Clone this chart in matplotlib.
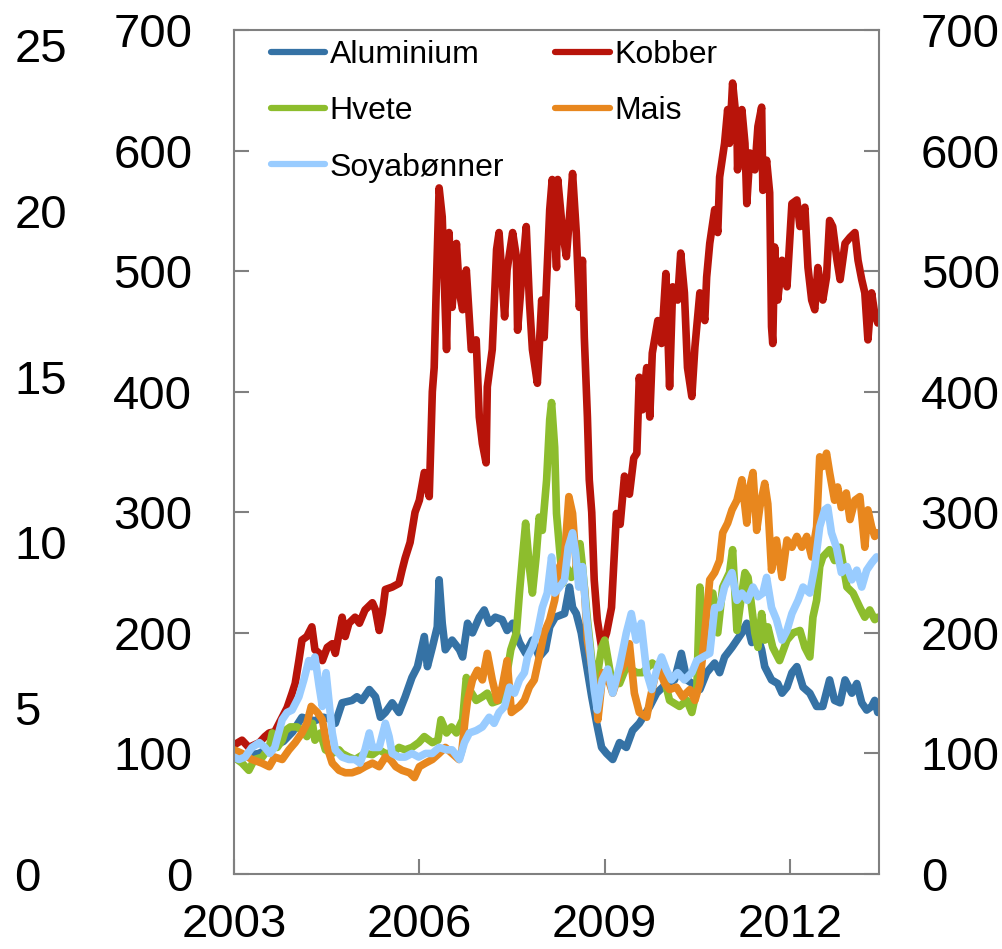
import matplotlib
matplotlib.use("Agg")
import matplotlib.pyplot as plt

plt.rcParams['font.family'] = ['Liberation Sans', 'DejaVu Sans']

# indeks, 2003 = 100 (tid i desimalår)
aluminium_t = [2003.00, 2003.20, 2003.40, 2003.60, 2003.80, 2003.95, 2004.10, 2004.30, 2004.45,
               2004.59, 2004.64, 2004.75, 2004.91, 2004.99, 2005.07, 2005.19, 2005.29, 2005.37,
               2005.45, 2005.56, 2005.67, 2005.77, 2005.88, 2005.97, 2006.08, 2006.13, 2006.21,
               2006.29, 2006.32, 2006.37, 2006.42, 2006.53, 2006.65, 2006.70, 2006.78, 2006.86,
               2006.97, 2007.05, 2007.13, 2007.23, 2007.34, 2007.42, 2007.51, 2007.62, 2007.72,
               2007.83, 2007.94, 2008.04, 2008.11, 2008.20, 2008.35, 2008.43, 2008.48, 2008.54,
               2008.62, 2008.70, 2008.79, 2008.87, 2008.95, 2009.03, 2009.13, 2009.24, 2009.35,
               2009.45, 2009.56, 2009.73, 2009.84, 2010.00, 2010.13, 2010.24, 2010.33, 2010.42,
               2010.54, 2010.65, 2010.78, 2010.86, 2010.94, 2011.06, 2011.14, 2011.22, 2011.30,
               2011.38, 2011.46, 2011.54, 2011.59, 2011.70, 2011.80, 2011.87, 2011.95, 2012.03,
               2012.11, 2012.21, 2012.32, 2012.43, 2012.53, 2012.64, 2012.72, 2012.81, 2012.89,
               2013.00, 2013.08, 2013.16, 2013.24, 2013.32, 2013.37, 2013.42]
aluminium_v = [100, 98, 100, 105, 110, 118, 130, 127, 130,
               128, 125, 142, 144, 147, 144, 153, 147, 130,
               134, 142, 134, 147, 163, 172, 197, 172, 188,
               205, 244, 208, 186, 194, 186, 180, 208, 200,
               213, 219, 208, 213, 211, 202, 208, 192, 183,
               194, 180, 186, 205, 213, 216, 238, 221, 216,
               200, 175, 147, 125, 105, 100, 95, 109, 105,
               119, 125, 139, 150, 158, 161, 183, 161, 158,
               153, 167, 175, 167, 180, 188, 194, 200, 208,
               192, 200, 186, 172, 161, 158, 150, 155, 167,
               172, 155, 150, 139, 139, 161, 144, 142, 161,
               150, 158, 142, 136, 139, 144, 134]

kobber_t = [2003.00, 2003.13, 2003.24, 2003.41, 2003.50, 2003.57, 2003.66, 2003.78, 2003.86,
            2003.94, 2003.99, 2004.05, 2004.10, 2004.18, 2004.26, 2004.31, 2004.38, 2004.43,
            2004.51, 2004.59, 2004.64, 2004.75, 2004.80, 2004.86, 2004.96, 2005.03, 2005.12,
            2005.24, 2005.29, 2005.35, 2005.40, 2005.45, 2005.56, 2005.67, 2005.72, 2005.77,
            2005.85, 2005.93, 2006.00, 2006.08, 2006.16, 2006.21, 2006.24, 2006.27, 2006.32,
            2006.37, 2006.44, 2006.48, 2006.53, 2006.60, 2006.65, 2006.70, 2006.76, 2006.84,
            2006.92, 2006.97, 2007.02, 2007.08, 2007.10, 2007.18, 2007.25, 2007.29, 2007.38,
            2007.42, 2007.51, 2007.57, 2007.59, 2007.65, 2007.73, 2007.78, 2007.83, 2007.91,
            2007.98, 2008.02, 2008.07, 2008.11, 2008.15, 2008.22, 2008.24, 2008.32, 2008.38,
            2008.43, 2008.48, 2008.54, 2008.59, 2008.64, 2008.67, 2008.72, 2008.75, 2008.79,
            2008.83, 2008.88, 2008.95, 2009.03, 2009.11, 2009.19, 2009.25, 2009.32, 2009.40,
            2009.47, 2009.52, 2009.56, 2009.61, 2009.68, 2009.73, 2009.77, 2009.86, 2009.92,
            2009.99, 2010.05, 2010.10, 2010.18, 2010.23, 2010.29, 2010.34, 2010.41, 2010.46,
            2010.54, 2010.62, 2010.65, 2010.70, 2010.78, 2010.83, 2010.86, 2010.94, 2010.99,
            2011.02, 2011.07, 2011.14, 2011.15, 2011.22, 2011.27, 2011.30, 2011.35, 2011.43,
            2011.48, 2011.54, 2011.56, 2011.62, 2011.67, 2011.70, 2011.72, 2011.75, 2011.80,
            2011.87, 2011.95, 2012.03, 2012.11, 2012.16, 2012.24, 2012.29, 2012.35, 2012.40,
            2012.45, 2012.53, 2012.59, 2012.64, 2012.69, 2012.76, 2012.81, 2012.89, 2012.97,
            2013.05, 2013.10, 2013.16, 2013.21, 2013.26, 2013.32, 2013.37, 2013.42]
kobber_v = [107, 111, 105, 109, 114, 117, 118, 130, 138,
            150, 158, 177, 194, 197, 205, 186, 183, 177,
            188, 191, 183, 213, 197, 208, 213, 208, 219,
            225, 219, 202, 216, 236, 238, 241, 252, 262,
            275, 300, 310, 333, 313, 400, 420, 479, 569,
            545, 435, 532, 470, 523, 482, 468, 501, 435,
            443, 379, 357, 341, 404, 435, 518, 532, 462,
            501, 532, 512, 451, 490, 537, 476, 435, 407,
            476, 445, 503, 551, 576, 503, 576, 532, 512,
            545, 581, 532, 470, 509, 445, 379, 327, 300,
            244, 211, 188, 200, 221, 299, 290, 330, 315,
            345, 349, 412, 385, 420, 379, 432, 459, 440,
            498, 404, 487, 476, 515, 482, 420, 396, 437,
            482, 459, 495, 523, 551, 532, 578, 606, 634,
            606, 656, 620, 584, 634, 606, 556, 598, 584,
            620, 636, 567, 592, 565, 454, 440, 520, 476,
            509, 487, 556, 559, 537, 553, 503, 476, 468,
            503, 476, 495, 542, 537, 509, 493, 523, 528,
            532, 509, 493, 482, 443, 482, 465, 457]

hvete_t = [2003.00, 2003.13, 2003.24, 2003.33, 2003.46, 2003.57, 2003.62, 2003.70, 2003.78,
           2003.83, 2003.91, 2004.02, 2004.10, 2004.18, 2004.27, 2004.31, 2004.40, 2004.48,
           2004.59, 2004.70, 2004.75, 2004.86, 2004.96, 2005.12, 2005.24, 2005.35, 2005.45,
           2005.56, 2005.67, 2005.77, 2005.88, 2005.99, 2006.08, 2006.21, 2006.30, 2006.35,
           2006.44, 2006.52, 2006.60, 2006.70, 2006.76, 2006.81, 2006.92, 2007.02, 2007.10,
           2007.18, 2007.29, 2007.40, 2007.48, 2007.57, 2007.62, 2007.67, 2007.72, 2007.78,
           2007.83, 2007.89, 2007.94, 2007.99, 2008.06, 2008.11, 2008.14, 2008.19, 2008.22,
           2008.27, 2008.32, 2008.38, 2008.46, 2008.54, 2008.60, 2008.64, 2008.72, 2008.79,
           2008.87, 2008.95, 2009.00, 2009.11, 2009.24, 2009.35, 2009.52, 2009.61, 2009.77,
           2009.94, 2010.05, 2010.21, 2010.33, 2010.41, 2010.49, 2010.54, 2010.59, 2010.65,
           2010.75, 2010.83, 2010.91, 2011.02, 2011.07, 2011.14, 2011.22, 2011.27, 2011.32,
           2011.38, 2011.43, 2011.48, 2011.54, 2011.59, 2011.64, 2011.72, 2011.83, 2011.95,
           2012.05, 2012.16, 2012.24, 2012.32, 2012.37, 2012.43, 2012.48, 2012.53, 2012.64,
           2012.72, 2012.81, 2012.92, 2013.02, 2013.13, 2013.21, 2013.29, 2013.37, 2013.42]
hvete_v = [97, 92, 86, 95, 97, 105, 117, 105, 111,
           119, 122, 122, 119, 114, 125, 111, 117, 103,
           100, 103, 100, 97, 95, 100, 99, 103, 100,
           100, 105, 103, 105, 109, 114, 109, 111, 128,
           117, 122, 117, 128, 163, 153, 144, 147, 150,
           142, 144, 161, 186, 200, 233, 263, 291, 255,
           233, 263, 296, 285, 327, 377, 391, 354, 299,
           269, 241, 255, 246, 255, 274, 255, 211, 177,
           161, 188, 194, 161, 158, 172, 167, 167, 175,
           167, 144, 139, 144, 134, 153, 238, 200, 221,
           233, 200, 238, 250, 269, 202, 233, 250, 246,
           221, 200, 188, 216, 194, 205, 188, 177, 194,
           200, 202, 188, 180, 213, 227, 255, 263, 269,
           260, 271, 238, 233, 221, 213, 219, 211, 213]

mais_t = [2003.00, 2003.13, 2003.29, 2003.45, 2003.57, 2003.66, 2003.78, 2003.89, 2003.99,
          2004.10, 2004.18, 2004.25, 2004.35, 2004.43, 2004.51, 2004.59, 2004.70, 2004.80,
          2004.91, 2005.02, 2005.12, 2005.24, 2005.35, 2005.45, 2005.53, 2005.62, 2005.72,
          2005.84, 2005.92, 2006.00, 2006.10, 2006.21, 2006.32, 2006.42, 2006.53, 2006.64,
          2006.69, 2006.74, 2006.78, 2006.86, 2006.94, 2007.02, 2007.10, 2007.18, 2007.26,
          2007.34, 2007.42, 2007.49, 2007.54, 2007.62, 2007.70, 2007.78, 2007.86, 2007.94,
          2008.02, 2008.11, 2008.19, 2008.27, 2008.35, 2008.42, 2008.48, 2008.54, 2008.62,
          2008.67, 2008.72, 2008.79, 2008.87, 2008.89, 2008.97, 2009.08, 2009.13, 2009.24,
          2009.35, 2009.40, 2009.48, 2009.56, 2009.68, 2009.73, 2009.81, 2009.89, 2009.97,
          2010.05, 2010.16, 2010.26, 2010.38, 2010.46, 2010.54, 2010.62, 2010.70, 2010.78,
          2010.86, 2010.91, 2010.99, 2011.06, 2011.14, 2011.22, 2011.30, 2011.35, 2011.40,
          2011.46, 2011.51, 2011.59, 2011.64, 2011.70, 2011.78, 2011.87, 2011.95, 2012.03,
          2012.11, 2012.19, 2012.27, 2012.35, 2012.43, 2012.48, 2012.53, 2012.59, 2012.64,
          2012.72, 2012.77, 2012.83, 2012.91, 2012.97, 2013.05, 2013.13, 2013.21, 2013.26,
          2013.32, 2013.37, 2013.42]
mais_v = [103, 100, 95, 92, 89, 97, 95, 103, 109,
          117, 125, 139, 134, 128, 105, 92, 86, 84,
          84, 86, 89, 92, 89, 97, 95, 89, 86,
          84, 80, 89, 92, 95, 100, 105, 100, 95,
          103, 128, 144, 161, 169, 161, 183, 161, 144,
          155, 177, 134, 136, 139, 144, 155, 161, 180,
          200, 211, 227, 255, 263, 313, 299, 255, 244,
          238, 194, 172, 144, 128, 167, 158, 150, 167,
          177, 191, 150, 134, 130, 144, 163, 169, 158,
          153, 155, 147, 153, 144, 158, 200, 244, 250,
          260, 283, 291, 302, 310, 327, 291, 321, 333,
          285, 304, 324, 307, 252, 277, 246, 277, 271,
          280, 271, 280, 263, 288, 346, 338, 349, 333,
          310, 321, 304, 316, 294, 310, 313, 271, 302,
          288, 280, 283]

soya_t = [2003.00, 2003.08, 2003.18, 2003.29, 2003.41, 2003.50, 2003.58, 2003.66, 2003.78,
          2003.86, 2003.94, 2004.05, 2004.13, 2004.21, 2004.26, 2004.31, 2004.38, 2004.43,
          2004.49, 2004.54, 2004.59, 2004.64, 2004.75, 2004.86, 2004.96, 2005.04, 2005.12,
          2005.19, 2005.24, 2005.35, 2005.45, 2005.51, 2005.56, 2005.67, 2005.77, 2005.88,
          2005.99, 2006.10, 2006.21, 2006.32, 2006.44, 2006.53, 2006.65, 2006.73, 2006.81,
          2006.92, 2007.02, 2007.13, 2007.21, 2007.29, 2007.38, 2007.46, 2007.54, 2007.62,
          2007.70, 2007.75, 2007.83, 2007.91, 2007.99, 2008.07, 2008.14, 2008.19, 2008.27,
          2008.35, 2008.41, 2008.48, 2008.53, 2008.58, 2008.64, 2008.70, 2008.79, 2008.83,
          2008.88, 2008.96, 2009.05, 2009.13, 2009.24, 2009.35, 2009.43, 2009.51, 2009.59,
          2009.68, 2009.76, 2009.84, 2009.92, 2010.00, 2010.08, 2010.18, 2010.29, 2010.41,
          2010.49, 2010.59, 2010.70, 2010.78, 2010.86, 2010.94, 2011.06, 2011.14, 2011.22,
          2011.31, 2011.40, 2011.48, 2011.56, 2011.62, 2011.70, 2011.78, 2011.87, 2011.95,
          2012.03, 2012.13, 2012.21, 2012.32, 2012.40, 2012.48, 2012.56, 2012.61, 2012.67,
          2012.75, 2012.83, 2012.92, 2013.00, 2013.08, 2013.16, 2013.24, 2013.32, 2013.40]
soya_v = [97, 95, 97, 105, 109, 105, 100, 105, 128,
          134, 136, 147, 161, 177, 172, 180, 155, 139,
          167, 142, 117, 103, 97, 95, 95, 92, 103,
          117, 105, 105, 125, 114, 100, 97, 97, 100,
          97, 100, 100, 105, 103, 103, 95, 109, 117,
          119, 122, 130, 125, 134, 139, 155, 150, 161,
          167, 180, 188, 200, 221, 233, 263, 233, 238,
          244, 271, 283, 266, 238, 255, 216, 172, 153,
          136, 161, 170, 150, 172, 200, 216, 194, 208,
          167, 153, 169, 180, 169, 161, 167, 161, 167,
          177, 180, 183, 221, 221, 238, 250, 227, 233,
          227, 238, 230, 233, 246, 221, 211, 194, 202,
          216, 227, 238, 233, 255, 288, 302, 304, 283,
          271, 250, 255, 244, 252, 238, 252, 258, 263]

year_ticks = [2003, 2006, 2009, 2012]
left_ticks = list(range(0, 701, 100))
outer_ticks = [0, 5, 10, 15, 20, 25]

grey = '#808080'

fig = plt.figure(figsize=(10.03, 9.49), dpi=100)
ax = fig.add_axes([0.2333, 0.0790, 0.6431, 0.8894])

style = dict(lw=5.5, solid_capstyle='round', solid_joinstyle='round')
h_alu, = ax.plot(aluminium_t, aluminium_v, color='#3572A5', label='Aluminium', **style)
h_kob, = ax.plot(kobber_t, kobber_v, color='#B8140A', label='Kobber', **style)
h_hve, = ax.plot(hvete_t, hvete_v, color='#8DBD2D', label='Hvete', **style)
h_mai, = ax.plot(mais_t, mais_v, color='#E8871E', label='Mais', **style)
h_soy, = ax.plot(soya_t, soya_v, color='#99CCFF', label='Soyabønner', **style)

ax.set_xlim(2003, 2013.44)
ax.set_ylim(0, 700)
ax.set_xticks(year_ticks)
ax.set_yticks(left_ticks)

# ytre venstre akse (0-25), kun tall
ax3 = ax.twinx()
ax3.set_ylim(0, 25.45)
ax3.yaxis.tick_left()
ax3.set_yticks(outer_ticks, labels=[str(v) for v in outer_ticks], ha='left')
ax3.tick_params(axis='y', length=0, labelsize=34, pad=158)
for s in ax3.spines.values():
    s.set_visible(False)

ax.tick_params(axis='both', direction='in', length=11, width=1.5, color=grey,
               labelsize=34, pad=30)
ax.tick_params(axis='y', left=True, right=True, labelleft=True, labelright=True)
ax.tick_params(axis='x', pad=21)
for s in ax.spines.values():
    s.set_color(grey)
    s.set_linewidth(1.5)

leg = ax.legend([h_alu, h_hve, h_soy, h_kob, h_mai],
                ['Aluminium', 'Hvete', 'Soyabønner', 'Kobber', 'Mais'],
                ncol=2, loc='upper left', bbox_to_anchor=(0.057, 0.988), frameon=False,
                fontsize=23, handlelength=1.7, handletextpad=0.15, columnspacing=1.6,
                labelspacing=0.82, borderpad=0, borderaxespad=0)
for line in leg.get_lines():
    line.set_linewidth(4.5)

fig.savefig('out.png', dpi=100)
